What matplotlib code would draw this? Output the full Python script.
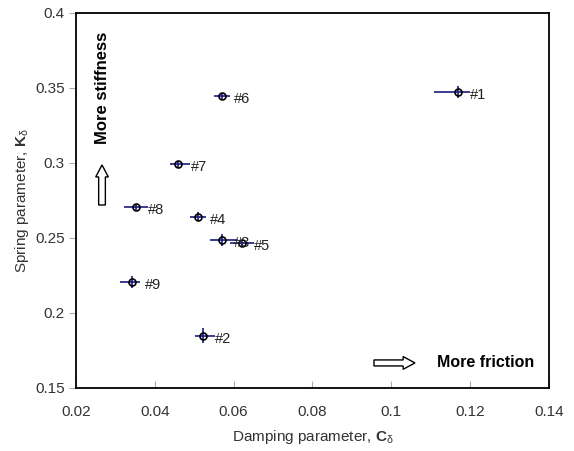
import matplotlib.pyplot as plt
from matplotlib.patches import FancyArrow

plt.rcParams['font.family'] = ['Liberation Sans', 'DejaVu Sans']
plt.rcParams['mathtext.fontset'] = 'custom'
plt.rcParams['mathtext.rm'] = 'Liberation Sans'
plt.rcParams['mathtext.it'] = 'Liberation Sans'
plt.rcParams['mathtext.bf'] = 'Liberation Sans:bold'

labels = ['#1', '#2', '#3', '#4', '#5', '#6', '#7', '#8', '#9']
damping = [0.1169, 0.0522, 0.0570, 0.0509, 0.0621, 0.0570, 0.0459, 0.0352, 0.0342]
spring = [0.347, 0.1847, 0.2487, 0.2640, 0.2467, 0.3447, 0.2993, 0.2707, 0.2207]
damp_lo = [0.0060, 0.0020, 0.0030, 0.0020, 0.0030, 0.0020, 0.0020, 0.0030, 0.0030]
damp_hi = [0.0030, 0.0030, 0.0040, 0.0020, 0.0030, 0.0020, 0.0030, 0.0030, 0.0020]
spring_err = [0.004, 0.005, 0.004, 0.003, 0.002, 0.002, 0.002, 0.002, 0.004]

fig = plt.figure(figsize=(5.74, 4.51), dpi=100)
ax = fig.add_axes([0.1324, 0.1397, 0.8240, 0.8315])

ax.errorbar(damping, spring, xerr=[damp_lo, damp_hi], yerr=spring_err,
            fmt='none', ecolor='#1a1a80', elinewidth=1.2, capsize=0, zorder=2)
ax.plot(damping, spring, 'o', ms=5, mfc='none', mec='black', mew=1.2, zorder=3)

for lab, x, y in zip(labels, damping, spring):
    ax.annotate(lab, (x, y), xytext=(9, -2), textcoords='offset points',
                ha='left', va='center', fontsize=10.5, color='#222222')

ax.set_xlim(0.02, 0.14)
ax.set_ylim(0.15, 0.4)
ax.set_xticks([0.02, 0.04, 0.06, 0.08, 0.1, 0.12, 0.14])
ax.set_xticklabels(['0.02', '0.04', '0.06', '0.08', '0.1', '0.12', '0.14'])
ax.set_yticks([0.15, 0.2, 0.25, 0.3, 0.35, 0.4])
ax.set_yticklabels(['0.15', '0.2', '0.25', '0.3', '0.35', '0.4'])
ax.tick_params(axis='x', direction='in', length=5, color='#aaaaaa',
               labelsize=11, labelcolor='#333333', pad=12)
ax.tick_params(axis='y', direction='out', length=5, color='#aaaaaa',
               labelsize=11, labelcolor='#333333', pad=3)
for s in ax.spines.values():
    s.set_linewidth(1.3)

ax.set_xlabel(r'Damping parameter, $\mathbf{C}_{\delta}$', fontsize=11, color='#333333', labelpad=7)
ax.set_ylabel(r'Spring parameter, $\mathbf{K}_{\delta}$', fontsize=11, color='#333333', labelpad=3)

# annotation arrows
ax.add_patch(FancyArrow(0.0956, 0.1667, 0.0104, 0, width=0.004, head_width=0.0085,
                        head_length=0.003, length_includes_head=True,
                        fc='white', ec='black', lw=1.0))
ax.text(0.1116, 0.1667, 'More friction', fontsize=11.5, fontweight='bold',
        ha='left', va='center')
ax.add_patch(FancyArrow(0.0266, 0.272, 0, 0.0267, width=0.0017, head_width=0.0032,
                        head_length=0.008, length_includes_head=True,
                        fc='white', ec='black', lw=1.0))
ax.text(0.0266, 0.350, 'More stiffness', fontsize=12, fontweight='bold',
        rotation=90, ha='center', va='center')

fig.savefig('out.png', dpi=100)
